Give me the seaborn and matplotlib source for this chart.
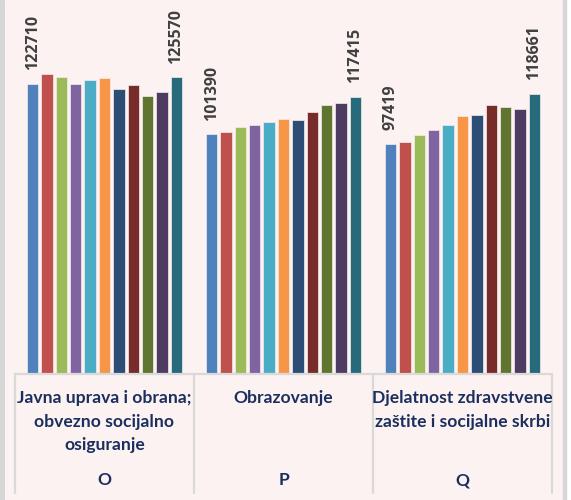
"""Prosječne plaće po djelatnostima O, P, Q — grupirani stupci (11 serija)."""

import matplotlib

matplotlib.use("Agg")
import matplotlib.pyplot as plt
from matplotlib.patches import Rectangle
import pandas as pd
import seaborn as sns

# --- data -----------------------------------------------------------------
sectors = ["O", "P", "Q"]
sector_names = [
    "Javna uprava i obrana;\nobvezno socijalno\nosiguranje",
    "Obrazovanje",
    "Djelatnost zdravstvene\nzaštite i socijalne skrbi",
]
series = [f"s{i + 1}" for i in range(11)]
values_o = [122710, 127010, 125550, 122840, 124430, 125290, 120560, 122410, 117680, 119530, 125570]
values_p = [101390, 102540, 104660, 105340, 106620, 107770, 107640, 111040, 113710, 114860, 117415]
values_q = [97419, 98270, 101120, 103370, 105490, 109310, 109740, 113990, 112840, 111990, 118661]
bar_colors = [
    "#4F81BD", "#C0504D", "#9BBB59", "#8064A2", "#4BACC6", "#F79646",
    "#2C4D75", "#772C2A", "#5F7530", "#4D3B62", "#276A7C",
]

BG = "#FBF2F1"
GRID = "#D9D9D9"
NAVY = "#1B2F5E"

df = pd.DataFrame(
    {
        "sector": [s for s in sectors for _ in series],
        "series": series * len(sectors),
        "value": values_o + values_p + values_q,
    }
)

sns.set_theme(style="white")
plt.rcParams["font.family"] = ["DejaVu Sans"]

W, H = 571, 500
fig = plt.figure(figsize=(W / 100, H / 100), dpi=100, facecolor="white")

# chart-area background and the grey frame edges
fig.add_artist(Rectangle((6 / W, 0), 557 / W, 1, transform=fig.transFigure, color=BG, zorder=0))
fig.add_artist(Rectangle((0, 0), 4 / W, 1, transform=fig.transFigure, color="#D6D6D6", zorder=0))
fig.add_artist(Rectangle((563 / W, 0), 2.5 / W, 1, transform=fig.transFigure, color="#D6D6D6", zorder=0))

ax_left, ax_right = 15, 552          # px
ax_bottom_px = 373.5                 # px from top
ax = fig.add_axes([ax_left / W, 1 - ax_bottom_px / H, (ax_right - ax_left) / W, ax_bottom_px / H])
ax.set_facecolor(BG)

sns.barplot(
    data=df, x="sector", y="value", hue="series", hue_order=series, order=sectors,
    palette=bar_colors, saturation=1, width=0.883, gap=0.21, errorbar=None, legend=False,
    edgecolor="#F4EDEC", linewidth=0.5, ax=ax,
)
ax.set_xlim(-0.5, 2.5)
ax.set_ylim(0, 158400)
ax.set_xlabel("")
ax.set_ylabel("")
ax.set_xticks([])
ax.set_yticks([])
for side in ("top", "left", "right"):
    ax.spines[side].set_visible(False)
ax.spines["bottom"].set_color(GRID)
ax.spines["bottom"].set_linewidth(1.6)

# value labels only on first and last series of each group
all_vals = [values_o, values_p, values_q]
for idx in (0, len(series) - 1):
    ax.bar_label(
        ax.containers[idx], labels=[str(v[idx]) for v in all_vals],
        padding=10, rotation=90, fontsize=11.5, color="#404040", fontweight="bold",
        family=["Open Sans", "DejaVu Sans"],
    )

# two-level category axis box
px_to_ax = 1 / ax_bottom_px
for xb in (-0.5, 0.5, 1.5, 2.5):
    ax.plot([xb, xb], [0, -119.5 * px_to_ax], transform=ax.get_xaxis_transform(),
            color=GRID, lw=1.6, clip_on=False)

line_offsets = [24.8, 48.0, 71.5]
for i, name in enumerate(sector_names):
    for j, line in enumerate(name.split("\n")):
        ax.text(i, -line_offsets[j] * px_to_ax, line, transform=ax.get_xaxis_transform(),
                ha="center", va="center", fontsize=12.6, fontweight="bold", color=NAVY,
                family=["Lato", "DejaVu Sans"])
    ax.text(i, -106.5 * px_to_ax, sectors[i], transform=ax.get_xaxis_transform(),
            ha="center", va="center", fontsize=12.6, fontweight="bold", color=NAVY,
            family=["Lato", "DejaVu Sans"])

fig.savefig("out.png", dpi=100, facecolor="white")
